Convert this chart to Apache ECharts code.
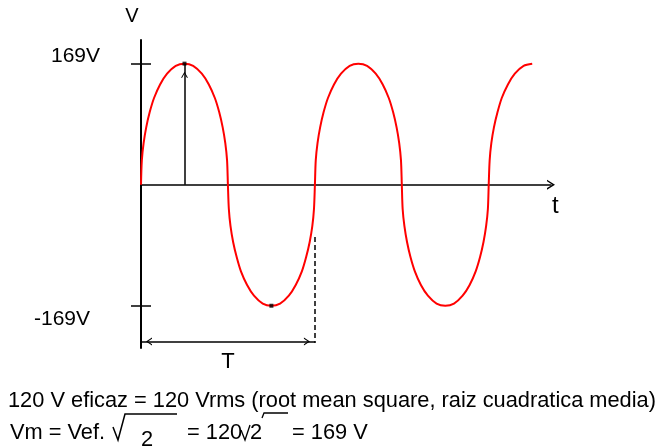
<!DOCTYPE html>
<html>
<head>
<meta charset="utf-8">
<script src="https://cdn.jsdelivr.net/npm/echarts@6/dist/echarts.min.js"></script>
<style>
  html, body { margin: 0; padding: 0; background: #fff; }
  #chart { width: 664px; height: 446px; }
</style>
</head>
<body>
<div id="chart"></div>
<script>
// 60 Hz mains: one period T = 16.67 ms, peak Vm = 169 V.
// Samples are denser near the zero crossings, where the trace is steep.
const timeMs = [
  0, 0.08, 0.25, 0.5, 0.83, 1.25, 1.83, 2.5, 3.33, 4.17, 5.0, 5.83, 6.5, 7.08, 7.5, 7.83, 8.08, 8.25, 8.33,
  8.42, 8.58, 8.83, 9.17, 9.58, 10.17, 10.83, 11.67, 12.5, 13.33, 14.17, 14.83, 15.42, 15.83, 16.17, 16.42, 16.58, 16.67,
  16.75, 16.92, 17.17, 17.5, 17.92, 18.5, 19.17, 20.0, 20.83, 21.67, 22.5, 23.17, 23.75, 24.17, 24.5, 24.75, 24.92, 25.0,
  25.08, 25.25, 25.5, 25.83, 26.25, 26.83, 27.5, 28.33, 29.17, 30.0, 30.83, 31.5, 32.08, 32.5, 32.83, 33.08, 33.25, 33.33,
  33.42, 33.58, 33.83, 34.17, 34.58, 35.17, 35.83, 36.67, 37.5
];
const voltage = [
  0, 34, 58, 80, 101, 121, 140, 155, 166, 169, 166, 155, 140, 121, 101, 80, 58, 34, 0,
  -34, -58, -80, -101, -121, -140, -155, -166, -169, -166, -155, -140, -121, -101, -80, -58, -34, 0,
  34, 58, 80, 101, 121, 140, 155, 166, 169, 166, 155, 140, 121, 101, 80, 58, 34, 0,
  -34, -58, -80, -101, -121, -140, -155, -166, -169, -166, -155, -140, -121, -101, -80, -58, -34, 0,
  34, 58, 80, 101, 121, 140, 155, 166, 169
];

// marked extremes of the first cycle
const extremeTimes = [4.17, 12.5];
const extremeValues = [169, -169];

// y-axis tick values and the period length
const tickValues = [169, -169];
const periodMs = 16.67;
const peakV = 169;

// bottom caption
const captionLine1 = '120 V eficaz = 120 Vrms (root mean square, raiz cuadratica media)';
const captionLine2 = ['Vm = Vef.', '2', '= 120', '2', '= 169 V'];

const FONT = '"Liberation Sans", Arial, sans-serif';
// open chevron, drawn pointing up (ECharts rotates it along the line)
const CHEVRON = 'path://M0,8 L5,0 L10,8 L8.4,8 L5,2.6 L1.6,8 Z';

const chart = echarts.init(document.getElementById('chart'));

const option = {
  animation: false,
  backgroundColor: '#fff',
  grid: { left: 141, top: 40, width: 410, height: 308 },
  xAxis: {
    type: 'value',
    min: 0,
    max: 39.3,
    name: '{t|t}',
    nameLocation: 'end',
    nameGap: 1,
    nameTextStyle: {
      rich: { t: { fontFamily: FONT, fontSize: 24, color: '#000', padding: [43, 0, 0, 0] } }
    },
    axisLine: {
      show: true, onZero: true,
      symbol: ['none', CHEVRON], symbolSize: [10, 8],
      lineStyle: { color: '#000', width: 1.6 }
    },
    axisTick: { show: false },
    axisLabel: { show: false },
    splitLine: { show: false }
  },
  yAxis: [
    {
      type: 'value',
      position: 'left',
      min: -228,
      max: 202,
      name: 'V',
      nameLocation: 'end',
      nameGap: 14,
      nameTextStyle: { fontFamily: FONT, fontSize: 20, color: '#000', padding: [0, 18, 0, 0] },
      axisLine: { show: true, onZero: false, lineStyle: { color: '#000', width: 2 } },
      axisTick: { show: true, customValues: tickValues, length: 10, lineStyle: { color: '#000', width: 1.5 } },
      axisLabel: {
        show: true,
        customValues: tickValues,
        margin: 41,
        formatter: v => (v > 0 ? '{top|' : '{bot|') + v + 'V}',
        rich: {
          top: { fontFamily: FONT, fontSize: 21, color: '#000', padding: [0, 0, 14, 0] },
          bot: { fontFamily: FONT, fontSize: 21, color: '#000', padding: [26, 10, 0, 0] }
        }
      },
      splitLine: { show: false }
    },
    {
      type: 'value',
      position: 'left',
      min: -228,
      max: 202,
      axisLine: { show: false },
      axisTick: { show: true, inside: true, customValues: tickValues, length: 10, lineStyle: { color: '#000', width: 1.5 } },
      axisLabel: { show: false },
      splitLine: { show: false }
    }
  ],
  series: [
    {
      name: 'v(t)',
      type: 'line',
      data: timeMs.map((t, i) => [t, voltage[i]]),
      smooth: 0.3,
      showSymbol: false,
      lineStyle: { color: '#ff0000', width: 2 },
      z: 3
    },
    {
      name: 'extremes',
      type: 'scatter',
      data: extremeTimes.map((t, i) => [t, extremeValues[i]]),
      symbol: 'rect',
      symbolSize: 4,
      itemStyle: { color: '#000' },
      z: 5,
      markLine: {
        silent: true,
        animation: false,
        symbol: ['none', 'none'],
        label: { show: false },
        lineStyle: { color: '#000', width: 1.5, type: 'solid' },
        emphasis: { disabled: true },
        data: [
          // Vm arrow from the axis up to the first peak
          [
            { coord: [extremeTimes[0], 0], symbol: 'none' },
            { coord: [extremeTimes[0], peakV], symbol: CHEVRON, symbolSize: [7, 6], symbolOffset: [0, 11] }
          ],
          // period T, double-headed
          [
            { coord: [0, -219], symbol: CHEVRON, symbolSize: [8, 6], symbolOffset: [0, 8],
              label: { show: true, formatter: 'T', position: 'insideMiddleBottom', distance: 9,
                       fontFamily: FONT, fontSize: 22, color: '#000' } },
            { coord: [periodMs, -219], symbol: CHEVRON, symbolSize: [8, 6], symbolOffset: [0, 8] }
          ],
          // dashed marker at t = T
          [
            { coord: [periodMs, -73], symbol: 'none',
              lineStyle: { type: [5, 3], width: 1.5, color: '#000' } },
            { coord: [periodMs, -221], symbol: 'none' }
          ]
        ]
      }
    }
  ],
  graphic: [
    { type: 'text', x: 8, y: 400.5,
      style: { text: captionLine1, font: '21.8px ' + FONT, fill: '#000', verticalAlign: 'middle' } },
    { type: 'text', x: 10, y: 432.5,
      style: { text: captionLine2[0], font: '21.8px ' + FONT, fill: '#000', verticalAlign: 'middle' } },
    // square root sign over the first "2"
    { type: 'polyline', shape: { points: [[113, 427], [118, 440], [125, 414], [177, 414]] },
      style: { stroke: '#000', lineWidth: 1.5, fill: null } },
    { type: 'text', x: 141, y: 439.5,
      style: { text: captionLine2[1], font: '21.8px ' + FONT, fill: '#000', verticalAlign: 'middle' } },
    { type: 'text', x: 187, y: 432.5,
      style: { text: captionLine2[2], font: '21.8px ' + FONT, fill: '#000', verticalAlign: 'middle' } },
    // small root sign before the second "2", with its bar drawn higher up
    { type: 'polyline', shape: { points: [[241, 430], [245, 440], [250, 425]] },
      style: { stroke: '#000', lineWidth: 1.3, fill: null } },
    { type: 'text', x: 250, y: 432.5,
      style: { text: captionLine2[3], font: '21.8px ' + FONT, fill: '#000', verticalAlign: 'middle' } },
    { type: 'polyline', shape: { points: [[262, 418], [264, 413], [288, 413]] },
      style: { stroke: '#000', lineWidth: 1.3, fill: null } },
    { type: 'text', x: 292, y: 432.5,
      style: { text: captionLine2[4], font: '21.8px ' + FONT, fill: '#000', verticalAlign: 'middle' } }
  ]
};

chart.setOption(option);
</script>
</body>
</html>
